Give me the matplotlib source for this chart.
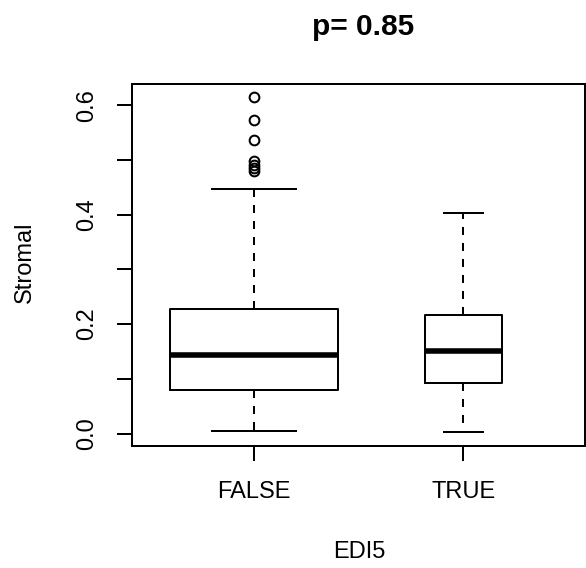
import matplotlib
matplotlib.use("Agg")
import matplotlib.pyplot as plt
import numpy as np

plt.rcParams['font.family'] = ['Liberation Sans', 'DejaVu Sans']

groups = ["FALSE", "TRUE"]
q1 = [0.079, 0.092]
med = [0.144, 0.151]
q3 = [0.228, 0.216]
whislo = [0.004, 0.002]
whishi = [0.447, 0.403]
fliers = [[0.614, 0.572, 0.536, 0.497, 0.490, 0.485, 0.479], []]
box_widths = [0.80, 0.367]

title = "p= 0.85"
xlabel = "EDI5"
ylabel = "Stromal"

W, H = 586, 568
fig = plt.figure(figsize=(W / 100, H / 100), dpi=100)
L, R, T, B = 132, 585, 84, 446
ax = fig.add_axes([L / W, 1 - B / H, (R - L) / W, (B - T) / H])

stats = []
for i, g in enumerate(groups):
    stats.append(dict(label=g, q1=q1[i], med=med[i], q3=q3[i],
                      whislo=whislo[i], whishi=whishi[i], fliers=fliers[i]))

lw = 1.44
ax.bxp(stats, positions=[1, 2], widths=box_widths,
       capwidths=[w / 2 for w in box_widths],
       showfliers=True, patch_artist=False,
       boxprops=dict(color='black', linewidth=lw),
       medianprops=dict(color='black', linewidth=4.0, solid_capstyle='butt'),
       whiskerprops=dict(color='black', linewidth=lw, linestyle=(0, (4, 4))),
       capprops=dict(color='black', linewidth=lw),
       flierprops=dict(marker='o', markerfacecolor='none', markeredgecolor='black',
                       markersize=7, markeredgewidth=lw))

ax.set_xlim(0.42, 2.58)
ax.set_ylim(-0.0227, 0.6385)

ax.set_yticks(np.arange(0, 0.61, 0.1))
ax.set_yticklabels(["0.0", "", "0.2", "", "0.4", "", "0.6"], rotation=90, va='center')
ax.set_xticks([1, 2])
ax.set_xticklabels(groups)
ax.tick_params(axis='both', length=11, width=lw, labelsize=17, direction='out', color='black')
ax.tick_params(axis='y', pad=13.5)
ax.tick_params(axis='x', pad=14)
for s in ax.spines.values():
    s.set_linewidth(lw)
    s.set_color('black')

fig.text(363 / W, 1 - 35 / H, title, ha='center', va='baseline', fontsize=21.5, fontweight='bold')
fig.text(359 / W, 1 - 552.5 / H, xlabel, ha='center', va='center', fontsize=17)
fig.text(25 / W, 1 - 262.5 / H, ylabel, ha='center', va='center', fontsize=17, rotation=90)

fig.savefig("out.png", dpi=100)
